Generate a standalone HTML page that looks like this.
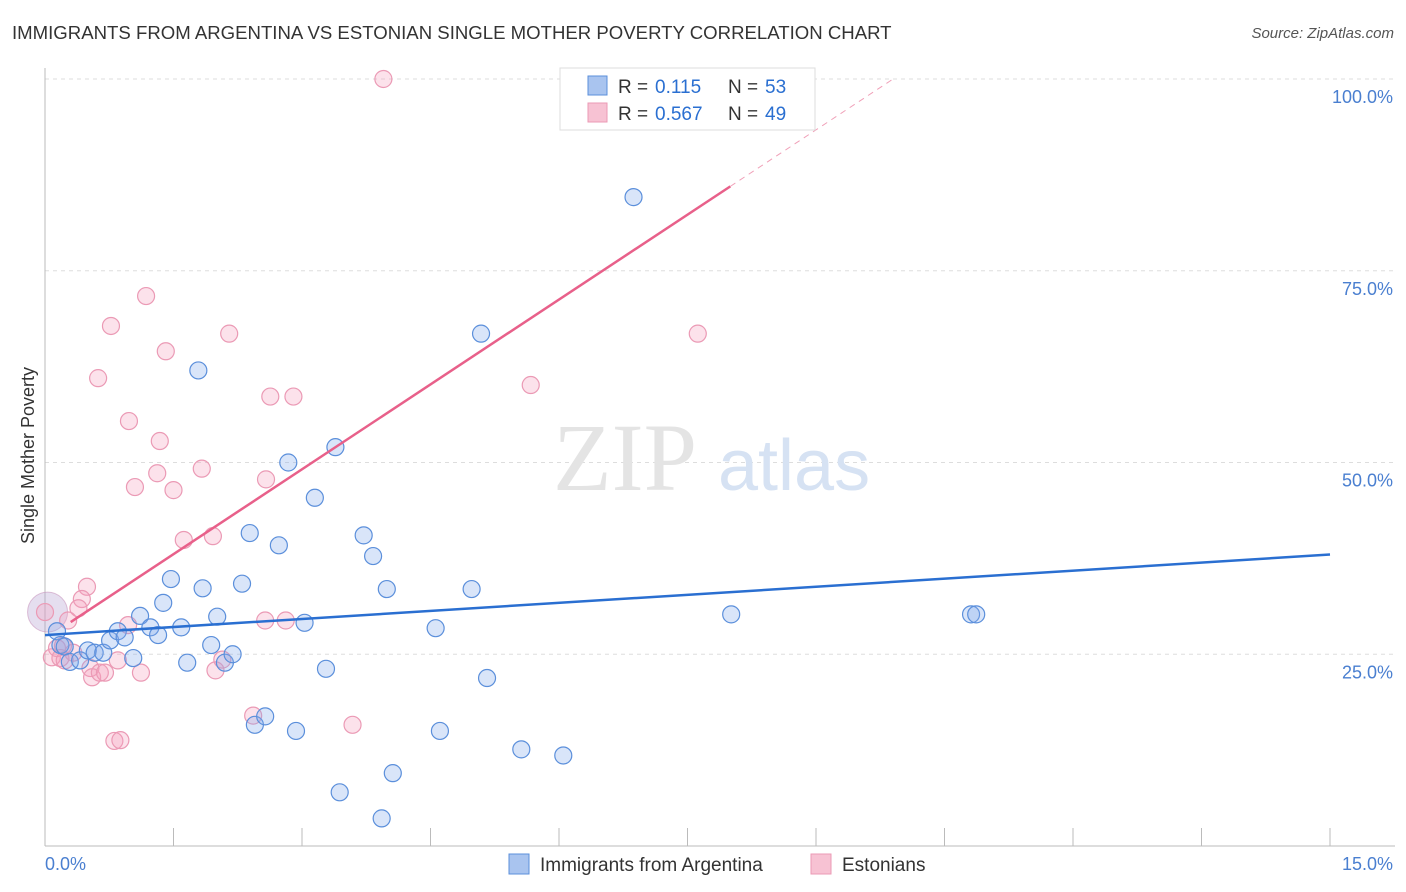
<!DOCTYPE html>
<html><head><meta charset="utf-8"><style>
body{margin:0;background:#fff;font-family:"Liberation Sans",sans-serif;}
#wrap{position:relative;width:1406px;height:892px;overflow:hidden}
.t{position:absolute;white-space:nowrap}
</style></head><body>
<div id="wrap">
<div class="t" style="left:12px;top:22px;font-size:18.6px;color:#333">IMMIGRANTS FROM ARGENTINA VS ESTONIAN SINGLE MOTHER POVERTY CORRELATION CHART</div>
<div class="t" style="right:12px;top:25px;font-size:15px;color:#555;font-style:italic">Source: ZipAtlas.com</div>
<div class="t" style="left:-60px;top:445px;font-size:18px;color:#333;transform:rotate(-90deg)">Single Mother Poverty</div>
<svg id="svg" width="1406" height="892" style="position:absolute;left:0;top:0"></svg>
</div>
<script>
const blueX=[0.14,0.18,0.23,0.29,0.41,0.5,0.58,0.68,0.76,0.85,0.93,1.03,1.11,1.23,1.32,1.38,1.47,1.59,1.66,1.79,1.84,1.94,2.01,2.1,2.19,2.3,2.39,2.45,2.57,2.73,2.84,2.93,3.03,3.15,3.28,3.39,3.44,3.72,3.83,3.93,3.99,4.06,4.56,4.61,4.98,5.09,5.16,5.56,6.05,6.87,8.01,10.81,10.87];
const blueY=[28.0,26.2,26.0,24.0,24.2,25.5,25.2,25.2,26.8,28.0,27.2,24.5,30.0,28.5,27.5,31.7,34.8,28.5,23.9,62.0,33.6,26.2,29.9,23.9,25.0,34.2,40.8,15.8,16.9,39.2,50.0,15.0,29.1,45.4,23.1,52.0,7.0,40.5,37.8,3.6,33.5,9.5,28.4,15.0,33.5,66.8,21.9,12.6,11.8,84.6,30.2,30.2,30.2];
const pinkX=[3.95,1.18,0.77,2.15,7.62,1.41,0.62,5.67,2.63,2.9,0.98,1.34,1.83,1.31,2.58,1.05,1.5,1.62,1.96,0.49,0.43,0.39,0.27,0.97,2.57,2.81,0.08,0.14,0.21,0.33,0.85,0.53,0.55,0.64,0.7,1.12,1.99,2.07,2.43,3.59,0.81,0.88,0.0,0.18,0.23];
const pinkY=[100,71.7,67.8,66.8,66.8,64.5,61.0,60.1,58.6,58.6,55.4,52.8,49.2,48.6,47.8,46.8,46.4,39.9,40.4,33.8,32.2,31.0,29.4,28.8,29.4,29.4,24.6,25.8,26.1,25.2,24.2,23.2,22.0,22.6,22.6,22.6,22.9,24.3,17.0,15.8,13.7,13.8,30.5,24.5,24.2];
const xTicks=[0,15];
const yTicks=[25,50,75,100];
const blueLine=[27.5,38.0];
const pinkLine=[29.2,86.0,100];
const X0=45,X1=1330,Y0=846,Y100=79;
const sx=v=>X0+(X1-X0)*v/15;
const sy=v=>Y0-(Y0-Y100)*v/100;
const svg=document.getElementById('svg');const NS='http://www.w3.org/2000/svg';
function mk(tag,at,parent){const e=document.createElementNS(NS,tag);for(const k in at)e.setAttribute(k,at[k]);(parent||svg).appendChild(e);return e;}
yTicks.forEach(v=>{const g=mk('line',{x1:45,x2:1395,y1:sy(v),y2:sy(v),stroke:'#ddd','stroke-dasharray':'4,4'});


const t=mk('text',{x:1393,y:sy(v)+24,'text-anchor':'end','font-size':18,fill:'#4a7fd0','font-family':'Liberation Sans'});t.textContent=v.toFixed(1)+'%';

});
const ax=mk('line',{x1:45,x2:45,y1:68,y2:846,stroke:'#bbb'});


const bx=mk('line',{x1:45,x2:1395,y1:846,y2:846,stroke:'#bbb'});


for(let i=1;i<=10;i++){const x=sx(i*1.5);const tk=mk('line',{x1:x,x2:x,y1:828,y2:846,stroke:'#bbb'});

}
xTicks.forEach((v,i)=>{const t=mk('text',{x:i?1393:45,y:870,'text-anchor':i?'end':'start','font-size':18,fill:'#4a7fd0','font-family':'Liberation Sans'});t.textContent=v.toFixed(1)+'%';

});
const wm=mk('text',{x:553,y:490,'font-size':96,fill:'#e4e4e4','font-family':'Liberation Serif'});wm.textContent='ZIP';


const wm2=mk('text',{x:718,y:490,'font-size':72,fill:'#d6e2f3','font-family':'Liberation Sans'});wm2.textContent='atlas';


const bc=mk('circle',{cx:sx(0.03),cy:sy(30.5),r:20,fill:'rgba(180,160,210,0.35)',stroke:'rgba(200,150,190,0.6)'});


pinkX.forEach((x,i)=>{const c=mk('circle',{cx:sx(x),cy:sy(pinkY[i]),r:8.5,fill:'rgba(244,160,188,0.3)',stroke:'#eb9ab5','stroke-width':1.2});

});
blueX.forEach((x,i)=>{const c=mk('circle',{cx:sx(x),cy:sy(blueY[i]),r:8.5,fill:'rgba(130,170,235,0.3)',stroke:'#5b8fdb','stroke-width':1.2});

});
const bl=mk('line',{x1:sx(0),y1:sy(blueLine[0]),x2:sx(15),y2:sy(blueLine[1]),stroke:'#2a6fd1','stroke-width':2.5});


const xs=0.3,xe=8.0,xd=9.9;
const pl=mk('line',{x1:sx(xs),y1:sy(pinkLine[0]),x2:sx(xe),y2:sy(pinkLine[1]),stroke:'#e8608a','stroke-width':2.5});


const pd=mk('line',{x1:sx(xe),y1:sy(pinkLine[1]),x2:sx(xd),y2:sy(pinkLine[2]),stroke:'#f0a0b8','stroke-width':1,'stroke-dasharray':'6,5'});


const lg=mk('rect',{x:560,y:68,width:255,height:62,fill:'#fff',stroke:'#ddd'});


[['#a9c4ef','#5b8fdb','0.115','53',86],['#f7c2d3','#eb9ab5','0.567','49',113]].forEach(r=>{
const s=mk('rect',{x:588,y:r[4]-10,width:19,height:19,fill:r[0],stroke:r[1]});


const t=mk('text',{x:618,y:r[4]+7,'font-size':19,fill:'#333','font-family':'Liberation Sans'});
t.innerHTML='R = <tspan fill="#2a6fd1" x="655">'+r[2]+'</tspan><tspan x="728" fill="#333">N = </tspan><tspan fill="#2a6fd1" x="765">'+r[3]+'</tspan>';

});
[['#a9c4ef','#5b8fdb','Immigrants from Argentina',509],['#f7c2d3','#eb9ab5','Estonians',811]].forEach(r=>{
const s=mk('rect',{x:r[3],y:854,width:20,height:20,fill:r[0],stroke:r[1]});


const t=mk('text',{x:r[3]+31,y:871,'font-size':19,fill:'#333','font-family':'Liberation Sans'});t.textContent=r[2];

});
</script>
</body></html>
